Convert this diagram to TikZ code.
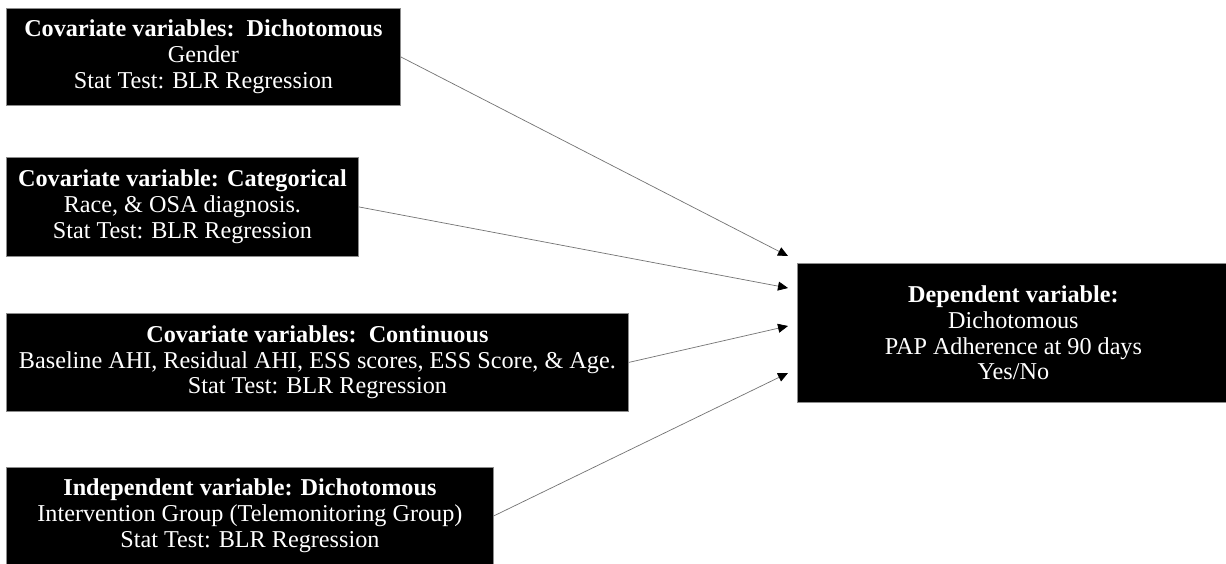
\documentclass[tikz,border=0pt]{standalone}
\usepackage{fontspec}
\setmainfont{Liberation Serif}
\usetikzlibrary{arrows.meta}
\tikzset{
  varbox/.style={rectangle, fill=black, draw=black!45, line width=0.8pt,
    text=white, align=center, inner sep=0pt, anchor=north west,
    font=\fontsize{24.2}{25.8}\selectfont},
  link/.style={draw=black!55, line width=0.7pt,
    -{Triangle[length=10pt,width=9pt,fill=black,color=black]}},
}
\begin{document}
\begin{tikzpicture}[x=1pt,y=-1pt]
\useasboundingbox (0,0) rectangle (1226,563);
\clip (0,0) rectangle (1226,563);
\fill[white] (0,0) rectangle (1226,563);
\node[varbox, minimum width=394pt, minimum height=97pt] (c1) at (6,8)
  {\textbf{Covariate variables:\ \ Dichotomous}\\Gender\\Stat Test: BLR Regression};
\node[varbox, minimum width=352pt, minimum height=99pt] (c2) at (6,157)
  {\textbf{Covariate variable: Categorical}\\Race, \& OSA diagnosis.\\Stat Test: BLR Regression};
\node[varbox, minimum width=622pt, minimum height=98pt] (c3) at (6,313)
  {\textbf{Covariate variables:\ \ Continuous}\\Baseline AHI, Residual AHI, ESS scores, ESS Score, \& Age.\\Stat Test: BLR Regression};
\node[varbox, minimum width=487pt, minimum height=97pt] (iv) at (6,467)
  {\textbf{Independent variable: Dichotomous}\\Intervention Group (Telemonitoring Group)\\Stat Test: BLR Regression};
\node[varbox, minimum width=432pt, minimum height=139pt] (dv) at (797,263)
  {\textbf{Dependent variable:}\\Dichotomous\\PAP Adherence at 90 days\\Yes/No};
\coordinate (e1) at (788,256);
\coordinate (e2) at (788,288);
\coordinate (e3) at (788,326);
\coordinate (e4) at (788,373);
\draw[link] (c1.east) -- (e1);
\draw[link] (c2.east) -- (e2);
\draw[link] (c3.east) -- (e3);
\draw[link] (iv.east) -- (e4);
\end{tikzpicture}
\end{document}
